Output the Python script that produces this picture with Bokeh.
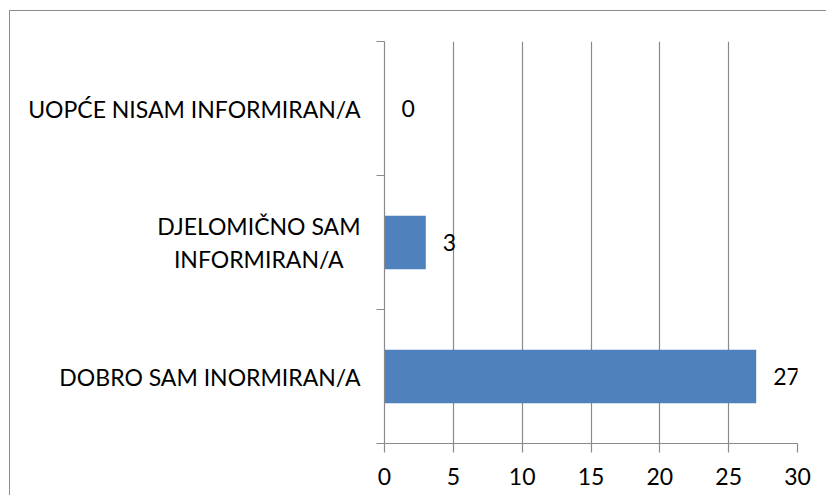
from bokeh.plotting import figure
from bokeh.models import (Range1d, LinearAxis, FixedTicker, ColumnDataSource)
from bokeh.core.properties import value
from bokeh.embed import file_html
from bokeh.resources import INLINE

# Data (bottom to top)
categories = ["DOBRO SAM INORMIRAN/A",
              "DJELOMIČNO SAM\nINFORMIRAN/A\u00a0\u00a0\u00a0",
              "UOPĆE NISAM INFORMIRAN/A"]
counts = [27, 3, 0]
count_labels = [str(v) for v in counts]
x_ticks = [0, 5, 10, 15, 20, 25, 30]

FONT = "Lato"
GRAY = "#8a8a8a"
BAR = "#4F81BD"

ypos = [i + 0.5 for i in range(len(categories))]
src = ColumnDataSource(dict(y=ypos, n=counts, lab=count_labels))

p = figure(width=817, height=485, y_range=Range1d(0, len(categories)),
           x_range=Range1d(0, 30), output_backend="svg", toolbar_location=None,
           y_axis_location=None, x_axis_location="below",
           min_border_left=374, min_border_right=30, min_border_top=30,
           min_border_bottom=53)
p.styles = {"margin-left": "9px", "margin-top": "10px",
            "border-left": "1.5px solid #8c8c8c", "border-top": "1.5px solid #8c8c8c"}
p.outline_line_color = None
p.background_fill_color = "white"
p.border_fill_color = "white"

p.hbar(y="y", right="n", left=0, height=0.4, source=src,
       fill_color=BAR, line_color=None)
p.text(x="n", y="y", text="lab", source=src, x_offset=17,
       text_align="left", text_baseline="middle",
       text_font=value(FONT), text_font_size="23px", text_color="black")

# grid
p.ygrid.grid_line_color = None
p.xgrid.grid_line_color = GRAY
p.xgrid.grid_line_width = 1.2
p.xgrid.ticker = FixedTicker(ticks=x_ticks)

# x axis
xa = p.xaxis[0]
xa.ticker = FixedTicker(ticks=x_ticks)
xa.axis_line_color = GRAY
xa.axis_line_width = 1.2
xa.major_tick_line_color = GRAY
xa.major_tick_line_width = 1.2
xa.major_tick_out = 9
xa.major_tick_in = 0
xa.minor_tick_line_color = None
xa.major_label_standoff = 15
xa.major_label_text_font = FONT
xa.major_label_text_font_size = "23px"
xa.major_label_text_color = "black"

# boundary-tick axis (innermost on left)
bounds = list(range(len(categories) + 1))
ba = LinearAxis(ticker=FixedTicker(ticks=bounds))
ba.major_label_overrides = {b: "" for b in bounds}
ba.major_label_standoff = 0
ba.major_label_text_font_size = "1px"
ba.axis_line_color = GRAY
ba.axis_line_width = 1.2
ba.major_tick_line_color = GRAY
ba.major_tick_line_width = 1.2
ba.major_tick_out = 8
ba.major_tick_in = 0
ba.minor_tick_line_color = None

# category label axis
ca = LinearAxis(ticker=FixedTicker(ticks=ypos))
ca.major_label_overrides = {y: c for y, c in zip(ypos, categories)}
ca.axis_line_color = None
ca.major_tick_line_color = None
ca.minor_tick_line_color = None
ca.major_tick_out = 0
ca.major_tick_in = 0
ca.major_label_standoff = 16
ca.major_label_text_font = FONT
ca.major_label_text_font_size = "23px"
ca.major_label_text_color = "black"

p.add_layout(ba, "left")
p.add_layout(ca, "left")

open("out.html", "w").write(file_html(p, INLINE))
